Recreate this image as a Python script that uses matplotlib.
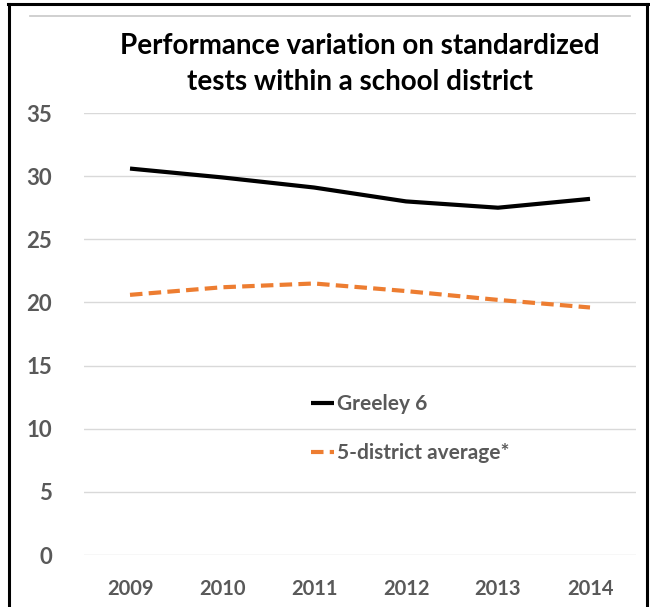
import matplotlib
matplotlib.use("Agg")
import matplotlib.pyplot as plt
from matplotlib.lines import Line2D

years = ["2009", "2010", "2011", "2012", "2013", "2014"]
greeley = [30.6, 29.9, 29.1, 28.0, 27.5, 28.2]
district_avg = [20.6, 21.2, 21.5, 20.9, 20.2, 19.6]
yticks = [0, 5, 10, 15, 20, 25, 30, 35]

W, H = 650, 607
fig = plt.figure(figsize=(W / 100, H / 100), dpi=100)
fig.patch.set_facecolor("white")

font = ["Lato", "DejaVu Sans"]
gray = "#595959"

ax = fig.add_axes([84 / W, (H - 555) / H, (636 - 84) / W, (555 - 113) / H])
x = list(range(len(years)))
ax.plot(x, greeley, color="black", lw=3, solid_capstyle="butt", label="Greeley 6")
ax.plot(x, district_avg, color="#ED7D31", lw=3, ls=(0, (3, 1.5)), label="5-district average*")
ax.set_xlim(-0.5, len(years) - 0.5)
ax.set_ylim(0, 35)
ax.set_yticks(yticks)
ax.set_xticks(x)
ax.set_xticklabels(years)
for s in ax.spines.values():
    s.set_visible(False)
ax.tick_params(length=0)
ax.tick_params(axis="y", pad=23)
ax.tick_params(axis="x", pad=17)
for lab in ax.get_yticklabels() + ax.get_xticklabels():
    lab.set_fontfamily(font)
    lab.set_fontweight("bold")
    lab.set_color(gray)
for lab in ax.get_yticklabels():
    lab.set_fontsize(16)
for lab in ax.get_xticklabels():
    lab.set_fontsize(14.5)
ax.grid(axis="y", color="#d9d9d9", lw=1)
ax.set_axisbelow(True)

leg = ax.legend(loc="upper left", bbox_to_anchor=(0.378, 0.407), frameon=False,
                prop={"family": font, "weight": "bold", "size": 15},
                handlelength=1.1, handletextpad=0.15, labelspacing=1.4, labelcolor=gray)

fig.text(360 / W, 1 - 64 / H, "Performance variation on standardized\ntests within a school district",
         ha="center", va="center", fontsize=20, fontweight="bold", family=font,
         color="black", linespacing=1.45)

# frame lines
fig.add_artist(Line2D([9 / W, 9 / W], [0, 1 - 4 / H], color="black", lw=2.2, transform=fig.transFigure))
fig.add_artist(Line2D([647 / W, 647 / W], [0, 1 - 4 / H], color="black", lw=2.2, transform=fig.transFigure))
fig.add_artist(Line2D([8 / W, 648 / W], [1 - 4 / H, 1 - 4 / H], color="black", lw=2.2, transform=fig.transFigure))
fig.add_artist(Line2D([30 / W, 630 / W], [1 - 16 / H, 1 - 16 / H], color="#c8c8c8", lw=1.2, transform=fig.transFigure))

fig.savefig("out.png", dpi=100)
